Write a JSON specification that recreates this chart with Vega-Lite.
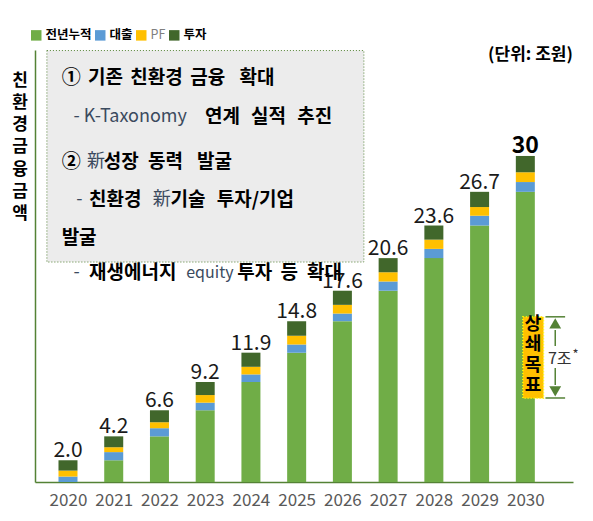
{
  "$schema": "https://vega.github.io/schema/vega-lite/v6.json",
  "width": 538,
  "height": 432,
  "autosize": {"type": "none"},
  "padding": {"left": 35, "top": 50, "right": 20, "bottom": 39},
  "config": {"view": {"stroke": null}, "font": "Noto Sans CJK KR"},
  "datasets": {
    "bars": [
      {"year": 2020, "seg": "전년누적", "i": 0, "v": 0},
      {"year": 2020, "seg": "대출", "i": 1, "v": 0.5},
      {"year": 2020, "seg": "PF", "i": 2, "v": 0.55},
      {"year": 2020, "seg": "투자", "i": 3, "v": 0.95},
      {"year": 2021, "seg": "전년누적", "i": 0, "v": 2.0},
      {"year": 2021, "seg": "대출", "i": 1, "v": 0.75},
      {"year": 2021, "seg": "PF", "i": 2, "v": 0.45},
      {"year": 2021, "seg": "투자", "i": 3, "v": 1.0},
      {"year": 2022, "seg": "전년누적", "i": 0, "v": 4.2},
      {"year": 2022, "seg": "대출", "i": 1, "v": 0.75},
      {"year": 2022, "seg": "PF", "i": 2, "v": 0.55},
      {"year": 2022, "seg": "투자", "i": 3, "v": 1.1},
      {"year": 2023, "seg": "전년누적", "i": 0, "v": 6.6},
      {"year": 2023, "seg": "대출", "i": 1, "v": 0.7},
      {"year": 2023, "seg": "PF", "i": 2, "v": 0.7},
      {"year": 2023, "seg": "투자", "i": 3, "v": 1.2},
      {"year": 2024, "seg": "전년누적", "i": 0, "v": 9.2},
      {"year": 2024, "seg": "대출", "i": 1, "v": 0.7},
      {"year": 2024, "seg": "PF", "i": 2, "v": 0.7},
      {"year": 2024, "seg": "투자", "i": 3, "v": 1.3},
      {"year": 2025, "seg": "전년누적", "i": 0, "v": 11.9},
      {"year": 2025, "seg": "대출", "i": 1, "v": 0.75},
      {"year": 2025, "seg": "PF", "i": 2, "v": 0.8},
      {"year": 2025, "seg": "투자", "i": 3, "v": 1.35},
      {"year": 2026, "seg": "전년누적", "i": 0, "v": 14.8},
      {"year": 2026, "seg": "대출", "i": 1, "v": 0.7},
      {"year": 2026, "seg": "PF", "i": 2, "v": 0.8},
      {"year": 2026, "seg": "투자", "i": 3, "v": 1.3},
      {"year": 2027, "seg": "전년누적", "i": 0, "v": 17.6},
      {"year": 2027, "seg": "대출", "i": 1, "v": 0.85},
      {"year": 2027, "seg": "PF", "i": 2, "v": 0.85},
      {"year": 2027, "seg": "투자", "i": 3, "v": 1.3},
      {"year": 2028, "seg": "전년누적", "i": 0, "v": 20.6},
      {"year": 2028, "seg": "대출", "i": 1, "v": 0.85},
      {"year": 2028, "seg": "PF", "i": 2, "v": 0.85},
      {"year": 2028, "seg": "투자", "i": 3, "v": 1.3},
      {"year": 2029, "seg": "전년누적", "i": 0, "v": 23.6},
      {"year": 2029, "seg": "대출", "i": 1, "v": 0.9},
      {"year": 2029, "seg": "PF", "i": 2, "v": 0.8},
      {"year": 2029, "seg": "투자", "i": 3, "v": 1.4},
      {"year": 2030, "seg": "전년누적", "i": 0, "v": 26.7},
      {"year": 2030, "seg": "대출", "i": 1, "v": 0.9},
      {"year": 2030, "seg": "PF", "i": 2, "v": 0.9},
      {"year": 2030, "seg": "투자", "i": 3, "v": 1.5}
    ],
    "totals": [
      {"year": 2020, "total": 2.0, "label": "2.0"},
      {"year": 2021, "total": 4.2, "label": "4.2"},
      {"year": 2022, "total": 6.6, "label": "6.6"},
      {"year": 2023, "total": 9.2, "label": "9.2"},
      {"year": 2024, "total": 11.9, "label": "11.9"},
      {"year": 2025, "total": 14.8, "label": "14.8"},
      {"year": 2026, "total": 17.6, "label": "17.6"},
      {"year": 2027, "total": 20.6, "label": "20.6"},
      {"year": 2028, "total": 23.6, "label": "23.6"},
      {"year": 2029, "total": 26.7, "label": "26.7"},
      {"year": 2030, "total": 30.0, "label": "30"}
    ],
    "boldText": [
      {"t": "①", "x": 2019.861, "y": 37.17},
      {"t": "기존", "x": 2020.44, "y": 37.17},
      {"t": "친환경", "x": 2021.363, "y": 37.17},
      {"t": "금융", "x": 2022.672, "y": 37.17},
      {"t": "확대", "x": 2023.75, "y": 37.17},
      {"t": "연계", "x": 2022.994, "y": 33.59},
      {"t": "실적", "x": 2024.002, "y": 33.59},
      {"t": "추진", "x": 2025.011, "y": 33.59},
      {"t": "②", "x": 2019.861, "y": 29.44},
      {"t": "성장", "x": 2020.783, "y": 29.44},
      {"t": "동력", "x": 2021.749, "y": 29.44},
      {"t": "발굴", "x": 2022.822, "y": 29.44},
      {"t": "친환경", "x": 2020.461, "y": 25.95},
      {"t": "기술", "x": 2022.242, "y": 25.95},
      {"t": "투자/기업", "x": 2023.251, "y": 25.95},
      {"t": "발굴", "x": 2019.861, "y": 22.45},
      {"t": "재생에너지", "x": 2020.461, "y": 19.23},
      {"t": "투자", "x": 2023.702, "y": 19.23},
      {"t": "등", "x": 2024.646, "y": 19.23},
      {"t": "확대", "x": 2025.225, "y": 19.23}
    ],
    "regularText": [
      {"t": "- K-Taxonomy", "x": 2020.118, "y": 33.59},
      {"t": "新", "x": 2020.418, "y": 29.44},
      {"t": "-", "x": 2020.182, "y": 25.95},
      {"t": "新", "x": 2021.856, "y": 25.95},
      {"t": "-", "x": 2020.118, "y": 19.23}
    ],
    "smallText": [
      {"t": "equity", "x": 2022.586, "y": 19.23}
    ],
    "shaft": [
      {"x": 2030.654, "y": 13.99, "y2": 12.51},
      {"x": 2030.654, "y": 10.49, "y2": 8.93}
    ],
    "ticks": [
      {"y": 15.2, "x": 2030.44, "x2": 2030.87},
      {"y": 7.73, "x": 2030.44, "x2": 2030.87}
    ],
    "one": [{}]
  },
  "layer": [
    {
      "data": {"name": "bars"},
      "mark": {"type": "bar", "size": 19},
      "encoding": {
        "x": {
          "field": "year", "type": "quantitative",
          "scale": {"domain": [2019.388, 2030.933], "nice": false, "zero": false},
          "axis": {
            "values": [2020, 2021, 2022, 2023, 2024, 2025, 2026, 2027, 2028, 2029, 2030],
            "format": "d", "title": null, "grid": false, "ticks": false,
            "labelFontSize": 17, "labelColor": "#595959", "labelPadding": 10,
            "labelFlush": false, "domainColor": "#548235", "domainWidth": 1.5
          }
        },
        "y": {
          "field": "v", "type": "quantitative", "stack": "zero",
          "scale": {"domain": [0, 39.75], "nice": false},
          "axis": {
            "title": ["친", "환", "경", "금", "융", "금", "액"],
            "labels": false, "ticks": false, "grid": false,
            "domainColor": "#548235", "domainWidth": 1.5,
            "titleAngle": 0, "titleX": -15.5, "titleY": 22,
            "titleAlign": "center", "titleBaseline": "top",
            "titleFontSize": 17, "titleFontWeight": "bold", "titleColor": "#000000",
            "titleLineHeight": 22.3
          }
        },
        "color": {
          "field": "seg", "type": "nominal",
          "scale": {"domain": ["전년누적", "대출", "PF", "투자"], "range": ["#70ad47", "#5b9bd5", "#ffc000", "#41672b"]},
          "legend": {
            "title": null, "orient": "none", "legendX": -5, "legendY": -21,
            "direction": "horizontal", "symbolType": "square", "symbolSize": 110,
            "symbolStrokeWidth": 0, "labelFontSize": 12.5, "labelFontWeight": "bold",
            "labelColor": "#000000", "labelOffset": 3, "columnPadding": 2,
            "encode": {
              "labels": {
                "update": {
                  "fill": {"signal": "datum.label === 'PF' ? '#7f7f7f' : '#000000'"},
                  "fontWeight": {"signal": "datum.label === 'PF' ? 'normal' : 'bold'"}
                }
              }
            }
          }
        },
        "order": {"field": "i", "type": "quantitative"}
      }
    },
    {
      "data": {"name": "totals"},
      "transform": [{"filter": "datum.year < 2030"}],
      "mark": {"type": "text", "baseline": "alphabetic", "dy": -3, "fontSize": 21, "color": "#1a1a1a"},
      "encoding": {
        "x": {"field": "year", "type": "quantitative"},
        "y": {"field": "total", "type": "quantitative"},
        "text": {"field": "label"}
      }
    },
    {
      "data": {"name": "totals"},
      "transform": [{"filter": "datum.year == 2030"}],
      "mark": {"type": "text", "baseline": "alphabetic", "dy": -3, "fontSize": 23, "fontWeight": "bold", "color": "#000000"},
      "encoding": {
        "x": {"field": "year", "type": "quantitative"},
        "y": {"field": "total", "type": "quantitative"},
        "text": {"field": "label"}
      }
    },
    {
      "data": {"name": "one"},
      "mark": {"type": "rect", "fill": "#ececec", "stroke": "#548235", "strokeWidth": 1, "strokeDash": [1, 2]},
      "encoding": {
        "x": {"datum": 2019.539, "type": "quantitative"},
        "x2": {"datum": 2026.47},
        "y": {"datum": 39.7, "type": "quantitative"},
        "y2": {"datum": 20.24}
      }
    },
    {
      "data": {"name": "boldText"},
      "mark": {"type": "text", "align": "left", "baseline": "middle", "fontSize": 19, "fontWeight": "bold", "color": "#000000"},
      "encoding": {
        "x": {"field": "x", "type": "quantitative"},
        "y": {"field": "y", "type": "quantitative"},
        "text": {"field": "t"}
      }
    },
    {
      "data": {"name": "regularText"},
      "mark": {"type": "text", "align": "left", "baseline": "middle", "fontSize": 18, "fontWeight": "normal", "color": "#3b4a5e"},
      "encoding": {
        "x": {"field": "x", "type": "quantitative"},
        "y": {"field": "y", "type": "quantitative"},
        "text": {"field": "t"}
      }
    },
    {
      "data": {"name": "smallText"},
      "mark": {"type": "text", "align": "left", "baseline": "middle", "fontSize": 16, "fontWeight": "normal", "color": "#3b4a5e"},
      "encoding": {
        "x": {"field": "x", "type": "quantitative"},
        "y": {"field": "y", "type": "quantitative"},
        "text": {"field": "t"}
      }
    },
    {
      "data": {"name": "one"},
      "mark": {"type": "text", "align": "right", "baseline": "middle", "fontSize": 17, "fontWeight": "bold", "color": "#000000"},
      "encoding": {
        "x": {"datum": 2031.04, "type": "quantitative"},
        "y": {"datum": 39.29, "type": "quantitative"},
        "text": {"value": "(단위: 조원)"}
      }
    },
    {
      "data": {"name": "one"},
      "mark": {"type": "rect", "fill": "#ffc000", "stroke": "#ffff00", "strokeWidth": 1.5, "strokeDash": [1, 2]},
      "encoding": {
        "x": {"datum": 2029.946, "type": "quantitative"},
        "x2": {"datum": 2030.397},
        "y": {"datum": 15.2, "type": "quantitative"},
        "y2": {"datum": 7.7}
      }
    },
    {
      "data": {"name": "one"},
      "mark": {"type": "text", "align": "center", "baseline": "middle", "fontSize": 18, "fontWeight": "bold", "color": "#000000", "lineBreak": "\n", "lineHeight": 20.5},
      "encoding": {
        "x": {"datum": 2030.17, "type": "quantitative"},
        "y": {"datum": 14.45, "type": "quantitative"},
        "text": {"value": "상\n쇄\n목\n표"}
      }
    },
    {
      "data": {"name": "shaft"},
      "mark": {"type": "rule", "color": "#548235", "strokeWidth": 1.5},
      "encoding": {
        "x": {"field": "x", "type": "quantitative"},
        "y": {"field": "y", "type": "quantitative"},
        "y2": {"field": "y2"}
      }
    },
    {
      "data": {"name": "ticks"},
      "mark": {"type": "rule", "color": "#548235", "strokeWidth": 1.5},
      "encoding": {
        "x": {"field": "x", "type": "quantitative"},
        "x2": {"field": "x2"},
        "y": {"field": "y", "type": "quantitative"}
      }
    },
    {
      "data": {"name": "one"},
      "mark": {"type": "point", "shape": "triangle-up", "filled": true, "size": 140, "color": "#548235", "opacity": 1},
      "encoding": {
        "x": {"datum": 2030.654, "type": "quantitative"},
        "y": {"datum": 14.6, "type": "quantitative"}
      }
    },
    {
      "data": {"name": "one"},
      "mark": {"type": "point", "shape": "triangle-down", "filled": true, "size": 140, "color": "#548235", "opacity": 1},
      "encoding": {
        "x": {"datum": 2030.654, "type": "quantitative"},
        "y": {"datum": 8.33, "type": "quantitative"}
      }
    },
    {
      "data": {"name": "one"},
      "mark": {"type": "text", "align": "left", "baseline": "middle", "fontSize": 16, "color": "#333333"},
      "encoding": {
        "x": {"datum": 2030.494, "type": "quantitative"},
        "y": {"datum": 11.32, "type": "quantitative"},
        "text": {"value": "7조"}
      }
    },
    {
      "data": {"name": "one"},
      "mark": {"type": "text", "align": "left", "baseline": "middle", "fontSize": 13, "color": "#333333"},
      "encoding": {
        "x": {"datum": 2031.03, "type": "quantitative"},
        "y": {"datum": 11.7, "type": "quantitative"},
        "text": {"value": "*"}
      }
    }
  ]
}
